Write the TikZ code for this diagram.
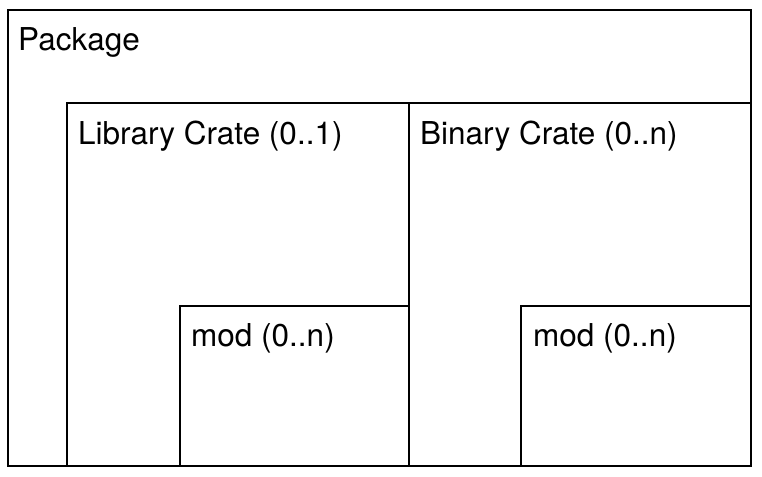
\documentclass[tikz,border=0pt]{standalone}
\usepackage{fontspec}
\setmainfont{TeX Gyre Heros}
\begin{document}
\begin{tikzpicture}[x=1pt,y=-1pt,
  box/.style={draw=black,line width=1.6pt},
  lbl/.style={anchor=base west,inner sep=0pt,font=\fontsize{31.5}{38}\selectfont}]
\useasboundingbox (0,0) rectangle (762,476);
\draw[box] (8,10) rectangle (751,466);
\draw[box] (67,103) rectangle (409,466);
\draw[box] (409,103) rectangle (751,466);
\draw[box] (180,306) rectangle (409,466);
\draw[box] (521,306) rectangle (751,466);
\node[lbl] (pkg) at (18,51) {Package};
\node[lbl] (lib) at (78,144) {Library Crate (0..1)};
\node[lbl] (bin) at (420,144) {Binary Crate (0..n)};
\node[lbl] (mod1) at (191,346) {mod (0..n)};
\node[lbl] (mod2) at (533,346) {mod (0..n)};
\end{tikzpicture}
\end{document}
